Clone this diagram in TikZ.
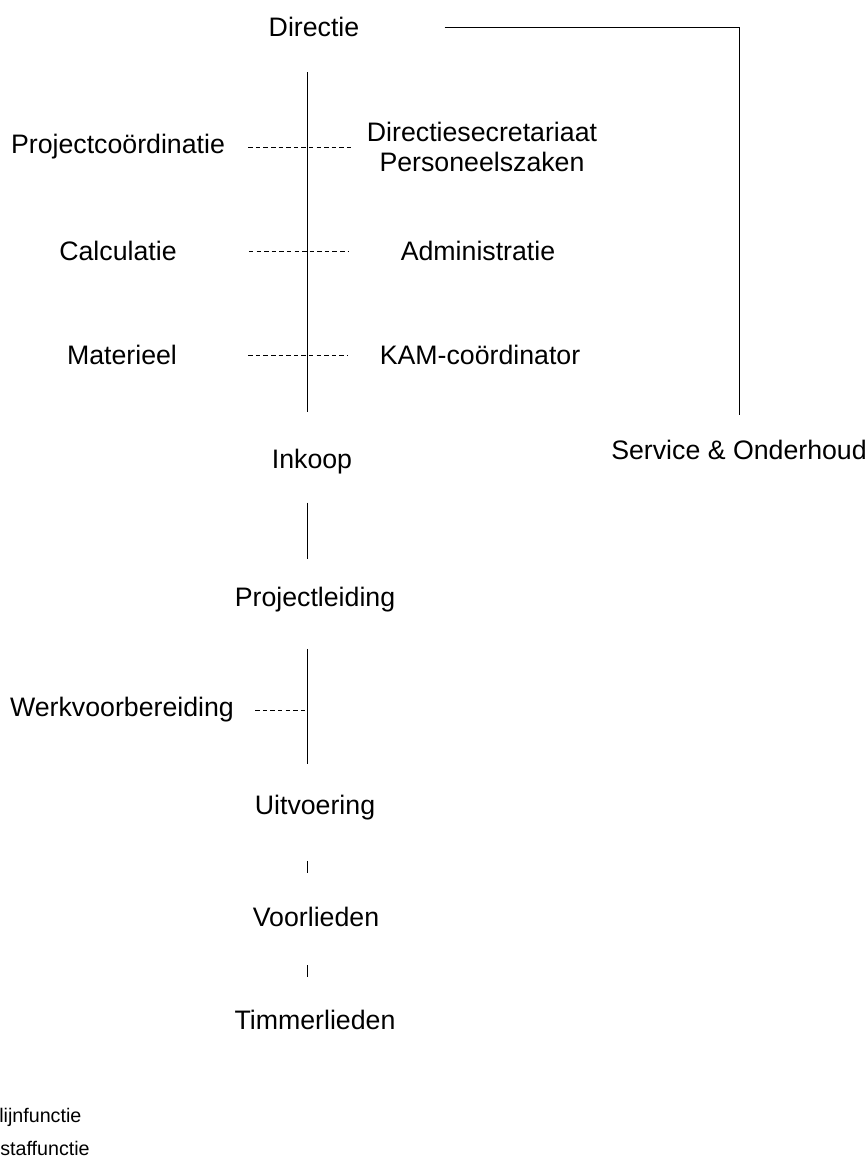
\documentclass[tikz,border=0pt]{standalone}
\usepackage{fontspec}
\setmainfont{Liberation Sans}
\usetikzlibrary{positioning}

\begin{document}
\begin{tikzpicture}[x=0.025cm,y=-0.025cm,
      f/.style={inner sep=0pt,font=\fontsize{19}{21.3}\selectfont,align=center},
      lg/.style={inner sep=0pt,anchor=west,font=\fontsize{14}{16}\selectfont},
      lijn/.style={line width=0.7pt,black},
      staf/.style={line width=0.7pt,black,dash pattern=on 3.2pt off 2.2pt}]
      \useasboundingbox (0,0) rectangle (867,1157);
      % lijnorganisatie
      \node[f] (dir) at (314,27) {Directie};
      \node[f] (ink) at (312,462) {Inkoop};
      \node[f] (pl) at (315,600) {Projectleiding};
      \node[f] (uit) at (315,808) {Uitvoering};
      \node[f] (vl) at (316,917) {Voorlieden};
      \node[f] (tl) at (315,1020) {Timmerlieden};
      \node[f] (so) at (739,450) {Service \& Onderhoud};
      \coordinate (as) at (307,0);
      % staf
      \node[f] (pc) at (118,147) {Projectcoördinatie};
      \node[f] (cal) at (118,251) {Calculatie};
      \node[f] (mat) at (122,355) {Materieel};
      \node[f] (wv) at (122,710) {Werkvoorbereiding};
      \node[f] (ds) at (482,147) {Directiesecretariaat\\Personeelszaken};
      \node[f] (adm) at (478,251) {Administratie};
      \node[f] (kam) at (480,355) {KAM-coördinator};
      % legenda
      \node[lg] (l1) at (-1,1117) {lijnfunctie};
      \node[lg] (l2) at (0,1148) {staffunctie};

      \draw[lijn,shorten <=0.875cm,shorten >=0.925cm] (dir.south -| as) -- (ink.north -| as);
      \draw[lijn,shorten <=0.7cm,shorten >=0.7cm] (ink.south -| as) -- (pl.north -| as);
      \draw[lijn,shorten <=0.9cm,shorten >=0.775cm] (pl.south -| as) -- (uit.north -| as);
      \draw[lijn,shorten <=1.0cm,shorten >=0.85cm] (uit.south -| as) -- (vl.north -| as);
      \draw[lijn,shorten <=0.95cm,shorten >=0.825cm] (vl.south -| as) -- (tl.north -| as);
      \draw[lijn,shorten <=2.125cm,shorten >=0.625cm] (dir.east) -- (dir.east -| so) -- (so.north);
      \draw[staf,shorten <=0.575cm,shorten >=0.375cm] (pc.east) -- (pc.east -| ds.west);
      \draw[staf,shorten <=1.8cm,shorten >=1.3cm] (cal.east) -- (cal.east -| adm.west);
      \draw[staf,shorten <=1.775cm,shorten >=0.8cm] (mat.east) -- (mat.east -| kam.west);
      \draw[staf,shorten <=0.525cm] (wv.east) -- (wv.east -| as);
    \end{tikzpicture}
\end{document}
